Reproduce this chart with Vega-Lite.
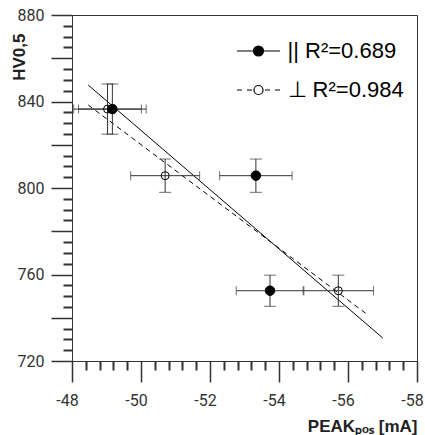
{
  "$schema": "https://vega.github.io/schema/vega-lite/v6.json",
  "width": 345,
  "height": 346,
  "autosize": "none",
  "padding": {"left": 72, "top": 15, "right": 8, "bottom": 74},
  "background": "white",
  "config": {
    "view": {"stroke": "#333", "strokeWidth": 1},
    "axis": {
      "domainColor": "#333", "labelColor": "#333",
      "labelFont": "Roboto", "labelFontSize": 16,
      "titleFont": "Liberation Sans", "titleFontWeight": "bold", "titleFontSize": 17, "titleColor": "#222",
      "grid": false, "domainWidth": 1, "ticks": true
    }
  },
  "datasets": {
    "pts": [
      {"group": "par", "label": "|| R²=0.689", "x": -49.17, "y": 836.5, "xe": 0.98, "ye": 11.6},
      {"group": "par", "label": "|| R²=0.689", "x": -53.33, "y": 805.7, "xe": 1.05, "ye": 7.7},
      {"group": "par", "label": "|| R²=0.689", "x": -53.74, "y": 752.5, "xe": 0.98, "ye": 7.2},
      {"group": "perp", "label": "⊥ R²=0.984", "x": -49.03, "y": 836.5, "xe": 0.98, "ye": 11.6},
      {"group": "perp", "label": "⊥ R²=0.984", "x": -50.70, "y": 805.7, "xe": 1.0, "ye": 7.7},
      {"group": "perp", "label": "⊥ R²=0.984", "x": -55.72, "y": 752.5, "xe": 1.02, "ye": 7.2}
    ],
    "fits": [
      {"group": "par", "x": -48.47, "y": 847.6},
      {"group": "par", "x": -57.01, "y": 730.6},
      {"group": "perp", "x": -48.47, "y": 838.4},
      {"group": "perp", "x": -56.51, "y": 742.1}
    ]
  },
  "layer": [
    {
      "data": {"name": "fits"},
      "transform": [{"filter": "datum.group == 'par'"}],
      "mark": {"type": "line", "color": "black", "strokeWidth": 1},
      "encoding": {
        "x": {"field": "x", "type": "quantitative",
          "scale": {"domain": [-58, -48], "reverse": true, "nice": false, "zero": false},
          "axis": {"orient": "bottom", "values": [-48, -50, -52, -54, -56, -58], "ticks": true, "tickSize": 21, "tickColor": "#333", "tickWidth": 1.5, "tickOpacity": 1, "labelPadding": 10, "labelOffset": -5,
            "labelExpr": "'-' + abs(datum.value)", "labelFlush": false, "labelOverlap": false,
            "title": "PEAKₚₒₛ [mA]", "titleX": 345, "titleY": 70, "titleAlign": "right", "titleBaseline": "alphabetic"}},
        "y": {"field": "y", "type": "quantitative",
          "scale": {"domain": [720, 880], "nice": false, "zero": false},
          "axis": {"orient": "left", "values": [720, 740, 760, 780, 800, 820, 840, 860, 880], "ticks": true, "tickSize": 21, "tickColor": "#333", "tickWidth": 1.5, "tickOpacity": 1, "labelPadding": 7,
            "labelExpr": "datum.value % 40 == 0 ? datum.label : ''", "labelFlush": false, "labelOverlap": false,
            "title": "HV0,5", "titleX": -48, "titleY": 18, "titleAngle": 270, "titleAlign": "right", "titleBaseline": "alphabetic"}}
      }
    },
    {
      "data": {"name": "fits"},
      "transform": [{"filter": "datum.group == 'perp'"}],
      "mark": {"type": "line", "color": "black", "strokeWidth": 1, "strokeDash": [5, 4]},
      "encoding": {
        "x": {"field": "x", "type": "quantitative",
          "scale": {"domain": [-58, -48], "reverse": true, "nice": false, "zero": false},
          "axis": {"orient": "bottom", "values": [-48.4, -48.8, -49.2, -49.6, -50.4, -50.8, -51.2, -51.6, -52.4, -52.8, -53.2, -53.6, -54.4, -54.8, -55.2, -55.6, -56.4, -56.8, -57.2, -57.6],
            "ticks": true, "tickSize": 9, "tickColor": "#333", "tickWidth": 2, "tickOpacity": 1, "labels": false, "domain": false, "title": null}},
        "y": {"field": "y", "type": "quantitative",
          "scale": {"domain": [720, 880], "nice": false, "zero": false},
          "axis": {"orient": "left", "values": [725, 730, 735, 745, 750, 755, 765, 770, 775, 785, 790, 795, 805, 810, 815, 825, 830, 835, 845, 850, 855, 865, 870, 875],
            "ticks": true, "tickSize": 9, "tickColor": "#333", "tickWidth": 2, "tickOpacity": 1, "labels": false, "domain": false, "title": null}}
      }
    },
    {
      "data": {"name": "pts"},
      "mark": {"type": "errorbar", "ticks": {"size": 9, "color": "#333"}, "rule": {"color": "#333", "strokeWidth": 1}},
      "encoding": {
        "x": {"field": "x", "type": "quantitative", "scale": {"domain": [-58, -48], "reverse": true, "nice": false, "zero": false}, "axis": null},
        "xError": {"field": "xe"},
        "y": {"field": "y", "type": "quantitative", "scale": {"domain": [720, 880], "nice": false, "zero": false}, "axis": null}
      }
    },
    {
      "data": {"name": "pts"},
      "mark": {"type": "errorbar", "ticks": {"size": 12, "color": "#333"}, "rule": {"color": "#333", "strokeWidth": 1}},
      "encoding": {
        "x": {"field": "x", "type": "quantitative", "scale": {"domain": [-58, -48], "reverse": true, "nice": false, "zero": false}, "axis": null},
        "y": {"field": "y", "type": "quantitative", "scale": {"domain": [720, 880], "nice": false, "zero": false}, "axis": null},
        "yError": {"field": "ye"}
      }
    },
    {
      "data": {"name": "pts"},
      "transform": [{"filter": "datum.group == 'par'"}],
      "mark": {"type": "circle", "stroke": "black", "strokeWidth": 1, "opacity": 1, "size": 90},
      "encoding": {
        "x": {"field": "x", "type": "quantitative", "scale": {"domain": [-58, -48], "reverse": true, "nice": false, "zero": false}, "axis": null},
        "y": {"field": "y", "type": "quantitative", "scale": {"domain": [720, 880], "nice": false, "zero": false}, "axis": null},
        "fill": {"field": "label", "type": "nominal",
          "scale": {"domain": ["|| R²=0.689"], "range": ["black"]},
          "legend": {"title": null, "orient": "none", "legendX": 165.5, "legendY": 15, "padding": 0,
            "symbolSize": 1600, "labelOffset": 8, "labelLimit": 400,
            "symbolType": "M-1.075,0H1.075M0.25,0A0.25,0.25,0,1,1,-0.25,0A0.25,0.25,0,1,1,0.25,0Z",
            "symbolFillColor": "black", "symbolStrokeColor": "black", "symbolStrokeWidth": 1.2, "symbolOpacity": 1,
            "labelFont": "Liberation Sans", "labelFontSize": 22, "labelColor": "black"}}
      }
    },
    {
      "data": {"name": "pts"},
      "transform": [{"filter": "datum.group == 'perp'"}],
      "mark": {"type": "point", "shape": "circle", "filled": false, "strokeWidth": 1, "opacity": 1, "size": 64},
      "encoding": {
        "x": {"field": "x", "type": "quantitative", "scale": {"domain": [-58, -48], "reverse": true, "nice": false, "zero": false}, "axis": null},
        "y": {"field": "y", "type": "quantitative", "scale": {"domain": [720, 880], "nice": false, "zero": false}, "axis": null},
        "stroke": {"field": "label", "type": "nominal",
          "scale": {"domain": ["⊥ R²=0.984"], "range": ["black"]},
          "legend": {"title": null, "orient": "none", "legendX": 165.5, "legendY": 54, "padding": 0,
            "symbolSize": 1600, "labelOffset": 8, "labelLimit": 400,
            "symbolType": "M-1.075,0H-0.825M-0.575,0H-0.325M0.325,0H0.575M0.825,0H1.075M0.225,0A0.225,0.225,0,1,1,-0.225,0A0.225,0.225,0,1,1,0.225,0Z",
            "symbolFillColor": "white", "symbolStrokeColor": "black", "symbolStrokeWidth": 1.2, "symbolOpacity": 1,
            "labelFont": "Liberation Sans", "labelFontSize": 22, "labelColor": "black"}}
      }
    }
  ],
  "resolve": {"axis": {"x": "independent", "y": "independent"}}
}
